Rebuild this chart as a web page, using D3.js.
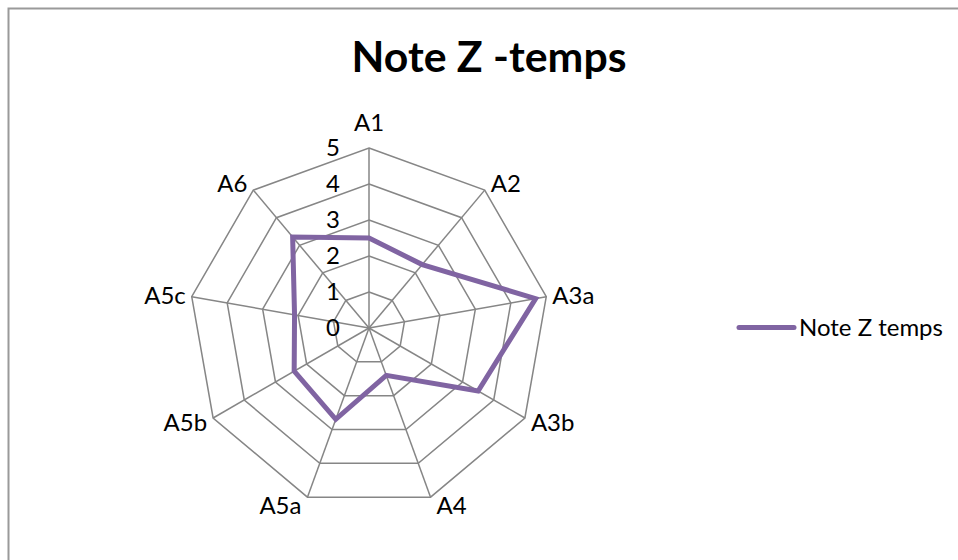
<!DOCTYPE html>
<html>
<head>
<meta charset="utf-8">
<script src="https://cdn.jsdelivr.net/npm/d3@7"></script>
<style>
  html, body { margin: 0; padding: 0; background: #fff; }
  svg { display: block; }
  text { font-family: Lato, "Open Sans", sans-serif; fill: #000; }
</style>
</head>
<body>
<svg id="chart" width="958" height="560"></svg>
<script>
// chart data
const chartTitle = 'Note Z -temps'
const seriesName = 'Note Z temps'
const axes = [ 'A1', 'A2', 'A3a', 'A3b', 'A4', 'A5a', 'A5b', 'A5c', 'A6' ]
const values = [ 2.5, 2.3, 4.7, 3.5, 1.4, 2.7, 2.4, 2.1, 3.3 ]
const ticks = [ 0, 1, 2, 3, 4, 5 ]

const W = 958, H = 560
const cx = 369, cy = 328, R = 180
const gridColor = '#868686'
const lineColor = '#8064a2'

const svg = d3.select('#chart')

// chart frame, the right and bottom edges sit outside the picture
svg.append('rect')
    .attr('x', 8.5).attr('y', 8.5)
    .attr('width', W + 20).attr('height', H + 20)
    .attr('fill', '#fff')
    .attr('stroke', '#9a9a9a')
    .attr('stroke-width', 2)

const r = d3.scaleLinear().domain([ 0, 5 ]).range([ 0, R ])
const angle = d3.scalePoint().domain(axes).range([ 0, 2 * Math.PI * ( 1 - 1 / axes.length ) ])

const px = ( a, v ) => cx + r(v) * Math.sin( angle(a) )
const py = ( a, v ) => cy - r(v) * Math.cos( angle(a) )

// fit a font size so a string gets a given width
function fitSize( str, width, weight ) {
    const t = svg.append('text').attr('font-size', 100).attr('font-weight', weight).text(str)
    const w = t.node().getComputedTextLength()
    t.remove()
    return 100 * width / w
}

const labelSize = fitSize( seriesName, 144, 400 )
const titleSize = fitSize( chartTitle, 275, 700 )

// title
svg.append('text')
    .attr('x', 489).attr('y', 72)
    .attr('text-anchor', 'middle')
    .attr('font-weight', 700)
    .attr('font-size', titleSize)
    .text(chartTitle)

const grid = svg.append('g').attr('fill', 'none').attr('stroke', gridColor).attr('stroke-width', 1.5)

// rings
ticks.filter( t => t > 0 ).forEach( t => {
    grid.append('path')
        .attr('d', d3.line()( axes.map( a => [ px( a, t ), py( a, t ) ] ) ) + 'Z')
} )

// spokes
axes.forEach( a => {
    grid.append('line')
        .attr('x1', cx).attr('y1', cy)
        .attr('x2', px( a, 5 )).attr('y2', py( a, 5 ))
} )

// series
svg.append('path')
    .attr('d', d3.line()( axes.map( ( a, i ) => [ px( a, values[i] ), py( a, values[i] ) ] ) ) + 'Z')
    .attr('fill', 'none')
    .attr('stroke', lineColor)
    .attr('stroke-width', 5)
    .attr('stroke-linejoin', 'miter')

// tick labels along the first axis
svg.append('g').selectAll('text')
    .data(ticks)
    .join('text')
        .attr('x', cx - 29)
        .attr('y', t => cy - r(t))
        .attr('dy', '0.35em')
        .attr('text-anchor', 'end')
        .attr('font-size', labelSize)
        .text( t => t )

// category labels
svg.append('g').selectAll('text')
    .data(axes)
    .join('text')
        .attr('font-size', labelSize)
        .attr('dy', '0.35em')
        .attr('text-anchor', a => {
            const s = Math.sin( angle(a) )
            return Math.abs(s) < 0.05 ? 'middle' : s > 0 ? 'start' : 'end'
        })
        .attr('x', a => {
            const s = Math.sin( angle(a) )
            return px( a, 5 ) + ( Math.abs(s) < 0.05 ? 0 : Math.sign(s) * 6 )
        })
        .attr('y', a => {
            const c = Math.cos( angle(a) )
            return c > 0.99 ? py( a, 5 ) - 25 : py( a, 5 ) - c * 9
        })
        .text( a => a )

// legend
const legend = svg.append('g').attr('transform', 'translate(739, 327.5)')
legend.append('line')
    .attr('x1', 0).attr('x2', 55)
    .attr('stroke', lineColor)
    .attr('stroke-width', 5)
    .attr('stroke-linecap', 'round')
legend.append('text')
    .attr('x', 60).attr('dy', '0.35em')
    .attr('font-size', labelSize)
    .text(seriesName)
</script>
</body>
</html>
